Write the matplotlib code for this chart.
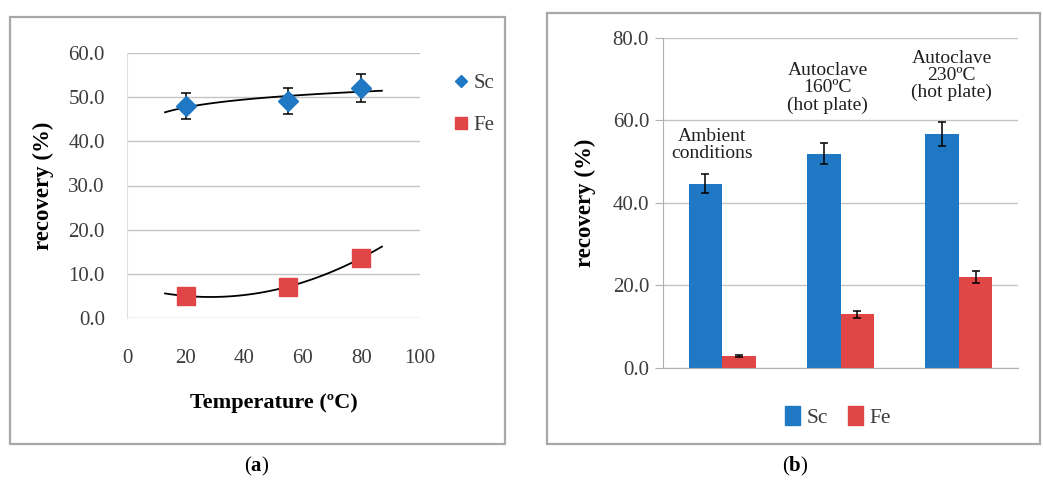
import matplotlib
matplotlib.use('Agg')
import matplotlib.pyplot as plt
from matplotlib.patches import Rectangle
from matplotlib.lines import Line2D
import numpy as np

# (a) recovery vs. leaching temperature
temp_c = [20, 55, 80]
sc_temp = [48.0, 49.1, 52.1]
sc_temp_err = [3.0, 3.0, 3.1]
fe_temp = [5.0, 7.1, 13.6]
TREND_RANGE = (13, 87)

# (b) recovery by leaching condition
conditions = ['Ambient\nconditions', 'Autoclave\n160ºC\n(hot plate)', 'Autoclave\n230ºC\n(hot plate)']
sc_cond = [44.6, 51.9, 56.7]
sc_cond_err = [2.3, 2.6, 2.9]
fe_cond = [2.9, 13.0, 22.0]
fe_cond_err = [0.3, 0.9, 1.4]

SC_COLOR = '#1f78c4'
FE_COLOR = '#e04646'
GRID_COLOR = '#c4c4c4'
TICK_COLOR = '#3c3c3c'
SERIF = 'Liberation Serif'

W, H = 1043, 482
plt.rcParams['font.family'] = SERIF
plt.rcParams['mathtext.fontset'] = 'custom'
plt.rcParams['mathtext.rm'] = SERIF
plt.rcParams['mathtext.bf'] = SERIF + ':bold'


def px_rect(x0, y0, x1, y1):
    # pixel box (top-left origin) -> figure fraction [left, bottom, width, height]
    return [x0 / W, 1 - y1 / H, (x1 - x0) / W, (y1 - y0) / H]


fig = plt.figure(figsize=(W / 100, H / 100), dpi=100)

for x0, y0, x1, y1 in [(10, 17, 505, 444), (547, 13, 1040, 444)]:
    l, b, w, h = px_rect(x0, y0, x1, y1)
    fig.add_artist(Rectangle((l, b), w, h, transform=fig.transFigure,
                             fill=False, ec='#a8a8a8', lw=1.6))

# ---- panel (a) ----
ax1 = fig.add_axes(px_rect(127, 53, 420, 318))
ax1.set_xlim(0, 100)
ax1.set_ylim(0, 60)
ax1.set_yticks(np.arange(0, 61, 10))
ax1.set_yticklabels([f'{v:.1f}' for v in np.arange(0, 61, 10)])
ax1.set_xticks(np.arange(0, 101, 20))
ax1.grid(axis='y', color=GRID_COLOR, lw=1.0)
ax1.set_axisbelow(True)
for s in ['top', 'right', 'bottom']:
    ax1.spines[s].set_visible(False)
ax1.spines['left'].set_color('#e0e0e0')
ax1.tick_params(length=0, labelsize=15, labelcolor=TICK_COLOR)
ax1.tick_params(axis='x', pad=22)
ax1.tick_params(axis='y', pad=16)

xs = np.linspace(*TREND_RANGE, 100)
# log trend for Sc, 2nd order polynomial for Fe
b_sc, a_sc = np.polyfit(np.log(temp_c), sc_temp, 1)
ax1.plot(xs, a_sc + b_sc * np.log(xs), color='k', lw=1.3, zorder=2)
ax1.plot(xs, np.polyval(np.polyfit(temp_c, fe_temp, 2), xs), color='k', lw=1.3, zorder=2)

ax1.errorbar(temp_c, sc_temp, yerr=sc_temp_err, fmt='none', ecolor='k',
             elinewidth=1.1, capsize=3.5, capthick=1.1, zorder=3)
ax1.plot(temp_c, sc_temp, ls='none', marker='D', ms=10, color=SC_COLOR, zorder=4)
ax1.plot(temp_c, fe_temp, ls='none', marker='s', ms=12.5, color=FE_COLOR, zorder=4)

ax1.set_ylabel('recovery (%)', fontsize=16.5, fontweight='bold', labelpad=10)
ax1.set_xlabel('Temperature (ºC)', fontsize=16, fontweight='bold', labelpad=18)

handles1 = [Line2D([], [], ls='none', marker='D', ms=6.5, color=SC_COLOR),
            Line2D([], [], ls='none', marker='s', ms=8.5, color=FE_COLOR)]
fig.legend(handles1, ['Sc', 'Fe'], loc='upper left',
           bbox_to_anchor=(436 / W, 1 - 55 / H), frameon=False,
           fontsize=15, labelspacing=1.05, handlelength=0.6, handletextpad=0.3,
           labelcolor=TICK_COLOR)

# ---- panel (b) ----
ax2 = fig.add_axes(px_rect(663, 37.7, 1018, 368))
idx = np.arange(len(conditions))
bw = 0.283
ax2.bar(idx - bw / 2, sc_cond, bw, color=SC_COLOR, yerr=sc_cond_err,
        error_kw=dict(ecolor='k', elinewidth=1.1, capsize=3, capthick=1.1), zorder=2)
ax2.bar(idx + bw / 2, fe_cond, bw, color=FE_COLOR, yerr=fe_cond_err,
        error_kw=dict(ecolor='k', elinewidth=1.1, capsize=3, capthick=1.1), zorder=2)
ax2.set_xlim(-0.5, len(conditions) - 0.5)
ax2.set_ylim(0, 80)
ax2.set_yticks(np.arange(0, 81, 20))
ax2.set_yticklabels([f'{v:.1f}' for v in np.arange(0, 81, 20)])
ax2.set_xticks([])
ax2.grid(axis='y', color=GRID_COLOR, lw=1.0)
ax2.set_axisbelow(True)
for s in ['top', 'right']:
    ax2.spines[s].set_visible(False)
ax2.spines['left'].set_color('#b0b0b0')
ax2.spines['bottom'].set_color('#b0b0b0')
ax2.tick_params(axis='y', length=6, color='#b0b0b0', labelsize=15,
                labelcolor=TICK_COLOR, pad=4)
ax2.set_ylabel('recovery (%)', fontsize=16.5, fontweight='bold', labelpad=12)

# condition labels sit above each group
label_pos = [(-0.085, 54.0), (0.89, 67.8), (1.94, 70.9)]
for text, (lx, ly) in zip(conditions, label_pos):
    ax2.text(lx, ly, text, ha='center', va='center', fontsize=14,
             linespacing=1.0, color='#202020')

handles2 = [Rectangle((0, 0), 1, 1, color=SC_COLOR),
            Rectangle((0, 0), 1, 1, color=FE_COLOR)]
fig.legend(handles2, ['Sc', 'Fe'], loc='center', ncol=2,
           bbox_to_anchor=(838 / W, 1 - 417 / H), frameon=False,
           fontsize=15.5, handlelength=0.7, handleheight=1.0, handletextpad=0.3,
           columnspacing=0.9, labelcolor=TICK_COLOR)

fig.text(257 / W, 1 - 466 / H, r'($\mathbf{a}$)', ha='center', va='center', fontsize=15)
fig.text(795 / W, 1 - 466 / H, r'($\mathbf{b}$)', ha='center', va='center', fontsize=15)

fig.savefig('out.png', dpi=100)
